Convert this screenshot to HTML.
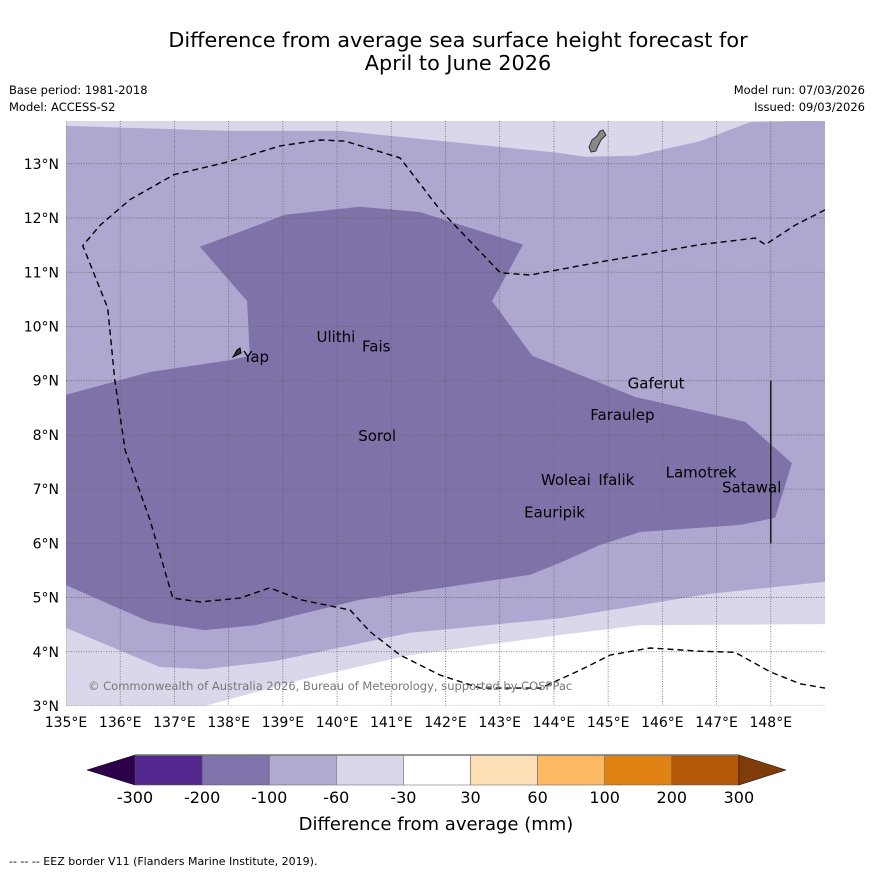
<!DOCTYPE html>
<html><head><meta charset="utf-8">
<style>
html,body{margin:0;padding:0;background:#fff;}
body{width:873px;height:873px;overflow:hidden;font-family:"DejaVu Sans","Liberation Sans",sans-serif;}
svg text{font-family:"DejaVu Sans","Liberation Sans",sans-serif;}
</style></head>
<body>
<svg id="chart" width="873" height="873" viewBox="0 0 873 873" xmlns="http://www.w3.org/2000/svg">
<text x="458" y="47" font-size="20.8" text-anchor="middle">Difference from average sea surface height forecast for</text>
<text x="458" y="70" font-size="20.8" text-anchor="middle">April to June 2026</text>
<text x="9" y="94" font-size="11.5">Base period: 1981-2018</text>
<text x="9" y="111" font-size="11.5">Model: ACCESS-S2</text>
<text x="865" y="94" font-size="11.5" text-anchor="end">Model run: 07/03/2026</text>
<text x="865" y="111" font-size="11.5" text-anchor="end">Issued: 09/03/2026</text>
<defs><clipPath id="mapclip"><rect x="66" y="121" width="759" height="585"/></clipPath></defs>
<g id="map" clip-path="url(#mapclip)"></g>
<g id="axes"></g>
<g id="cbar"></g>
<text x="436" y="830" font-size="18" text-anchor="middle">Difference from average (mm)</text>
<text x="9" y="865" font-size="11">--  --  -- EEZ border V11 (Flanders Marine Institute, 2019).</text>
</svg>
<script>
const lonMin=135, lonMax=149, latMin=3, latMax=13.79;
const lonTicks=[135,136,137,138,139,140,141,142,143,144,145,146,147,148];
const latTicks=[3,4,5,6,7,8,9,10,11,12,13];
// contour polygons [lon,lat]
const band100=[[135,13.70],[137.93,13.61],[140.06,13.61],[144.11,13.20],[144.58,13.13],[145.5,13.15],[146.7,13.42],[147.62,13.77],[149,13.8],[149,5.29],[146.88,5.07],[144.11,4.62],[141.35,4.35],[138.86,3.83],[137.56,3.68],[136.73,3.72],[135,4.44]];
const band200=[[135,8.74],[136.55,9.16],[138.03,9.38],[138.39,9.46],[138.34,10.47],[137.47,11.47],[139.04,12.06],[140.42,12.21],[141.53,12.11],[143.43,11.51],[142.86,10.47],[143.6,9.46],[145.5,8.7],[147.53,8.24],[148.39,7.48],[148.08,6.47],[147.44,6.34],[145.59,6.21],[144.85,5.97],[144.11,5.64],[143.56,5.42],[142.27,5.23],[140.42,4.96],[138.49,4.49],[137.56,4.4],[136.55,4.55],[135,5.23]];
const bandNeutral=[[137.56,3],[139.32,3.48],[141.35,3.94],[144.11,4.31],[145.59,4.49],[149,4.51],[149,3]];
const eezNorth=[[149,12.15],[148.45,11.87],[147.9,11.51],[147.71,11.63],[146.7,11.51],[144.85,11.19],[143.56,10.95],[143.01,10.99],[141.9,12.15],[141.16,13.11],[140.15,13.42],[139.69,13.44],[138.95,13.33],[137.93,13.02],[136.99,12.8],[136.18,12.34],[135.63,11.87],[135.31,11.49],[135.77,10.34],[135.9,9.01],[136.09,7.72],[136.55,6.43],[136.97,4.99],[137.47,4.92],[138.21,4.99],[138.76,5.18],[139.32,4.96],[140.24,4.77],[140.61,4.37],[141.16,3.94],[141.9,3.57],[142.64,3.33],[143.75,3.33],[144.48,3.66],[145.04,3.94],[145.77,4.07],[146.7,4.01],[147.34,3.99],[147.99,3.63],[148.54,3.41],[149,3.33]];
const islandNames=["Yap","Ulithi","Fais","Gaferut","Faraulep","Sorol","Woleai","Ifalik","Lamotrek","Satawal","Eauripik"];
const islandLon=[138.27,139.62,140.46,145.36,144.67,140.39,143.76,144.82,146.06,147.1,143.45];
const islandLat=[9.44,9.81,9.63,8.95,8.37,7.98,7.17,7.17,7.31,7.03,6.57];
const cbLevels=["-300","-200","-100","-60","-30","30","60","100","200","300"];
const cbColors=["#54278f","#8073ac","#b0a9d0","#d8d8ea","#ffffff","#fee0b6","#fdb863","#e08214","#b35806"];
const x=lon=>66+(lon-lonMin)/(lonMax-lonMin)*759;
const y=lat=>706-(lat-latMin)/(latMax-latMin)*585;
const NS="http://www.w3.org/2000/svg";
function mk(t,a,p){const e=document.createElementNS(NS,t);for(const k in a)e.setAttribute(k,a[k]);p.appendChild(e);return e;}
const pts=arr=>arr.map(p=>x(p[0]).toFixed(1)+","+y(p[1]).toFixed(1)).join(" ");
const map=document.getElementById('map');
let bg=mk('rect',{x:66,y:121,width:759,height:585,fill:'#d8d8ea'},map);


let pn=mk('polygon',{points:pts(bandNeutral),fill:'#ffffff'},map);


let p1=mk('polygon',{points:pts(band100),fill:'#aea7cf'},map);


let p2=mk('polygon',{points:pts(band200),fill:'#7f72a9'},map);


for(const lo of lonTicks){let g=mk('line',{x1:x(lo),x2:x(lo),y1:121,y2:706,stroke:'#666','stroke-width':0.8,'stroke-dasharray':'1,1.5'},map);

}
for(const la of latTicks){let g=mk('line',{x1:66,x2:825,y1:y(la),y2:y(la),stroke:'#666','stroke-width':0.8,'stroke-dasharray':'1,1.5'},map);

}
let ez=mk('polyline',{points:pts(eezNorth),fill:'none',stroke:'#000','stroke-width':1.4,'stroke-dasharray':'6,4'},map);


let vl=mk('line',{x1:x(148),x2:x(148),y1:y(9),y2:y(6),stroke:'#222','stroke-width':1.6},map);


let gu=mk('path',{d:'M589,147 L592,140 L597,136 L600,131 L603,130 L606,135 L601,140 L598,146 L596,151 L591,152 Z',fill:'#888',stroke:'#333','stroke-width':1},map);


let yp=mk('path',{d:'M233,357 L237,350 L240,348 L241,353 Z',fill:'#333',stroke:'#000','stroke-width':1},map);


islandNames.forEach((n,i)=>{let t=mk('text',{x:x(islandLon[i]),y:y(islandLat[i])+5,'font-size':15,fill:'#000'},map);t.textContent=n;

});
let cp=mk('text',{x:88,y:690,'font-size':11.5,fill:'#777'},map);cp.textContent='© Commonwealth of Australia 2026, Bureau of Meteorology, supported by COSPPac';


const ax=document.getElementById('axes');
for(const lo of lonTicks){let t=mk('text',{x:x(lo),y:727,'font-size':14,'text-anchor':'middle'},ax);t.textContent=lo+'°E';

}
for(const la of latTicks){let t=mk('text',{x:59,y:y(la)+5,'font-size':14,'text-anchor':'end'},ax);t.textContent=la+'°N';

}
const cb=document.getElementById('cbar');
const cx0=135,cw=67.1,cy=755,ch=30;
let lt=mk('polygon',{points:`87,770 ${cx0},${cy} ${cx0},${cy+ch}`,fill:'#2d004b',stroke:'#000','stroke-width':0.5},cb);


cbColors.forEach((c,i)=>{let r=mk('rect',{x:cx0+i*cw,y:cy,width:cw,height:ch,fill:c,stroke:'#555','stroke-width':0.5},cb);

});
const cx1=cx0+cbColors.length*cw;
let rt=mk('polygon',{points:`${cx1},${cy} 786,770 ${cx1},${cy+ch}`,fill:'#7f3b08',stroke:'#000','stroke-width':0.5},cb);


mk('line',{x1:cx0,x2:cx1,y1:cy,y2:cy,stroke:'#777','stroke-width':1.5},cb);
cbLevels.forEach((l,i)=>{let t=mk('text',{x:cx0+i*cw,y:803,'font-size':16,'text-anchor':'middle'},cb);t.textContent=l;

});
</script>
</body></html>
